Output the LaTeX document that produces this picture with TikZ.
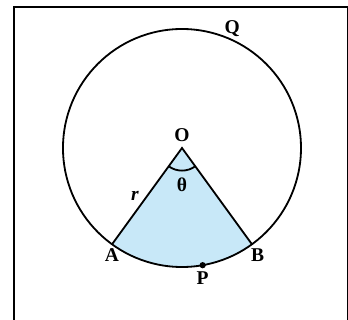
\documentclass[tikz,border=0pt]{standalone}
\usepackage{fontspec}
\setmainfont{Liberation Serif}
\usetikzlibrary{positioning}
\definecolor{sectorblue}{HTML}{C8E8F8}

\begin{document}
\begin{tikzpicture}[
    edge/.style={line width=1.3pt, draw=black},
    pointlabel/.style={font=\fontsize{14}{16}\selectfont\bfseries, inner sep=1pt},
    dotmark/.style={circle, fill=black, inner sep=0pt, minimum size=4.5pt}
]
    \useasboundingbox (-4.588,-4.336) rectangle (4.185,3.731);
    \clip (-4.588,-4.336) rectangle (4.185,3.731);
    \draw[line width=1.4pt] (-4.235,-5) |- (4.172,3.547) -- (4.172,-5);

    \coordinate (O) at (0,0);
    \coordinate (A) at (234:3);
    \coordinate (B) at (306:3);
    \coordinate (Q) at (65:3);

    \fill[sectorblue] (O) -- (A) arc[start angle=234, end angle=306, radius=3] -- cycle;
    \draw[edge] (O) circle[radius=3];
    \draw[edge] (A) -- node[midway, left=2pt, font=\fontsize{14}{16}\selectfont\bfseries\itshape] (radius) {r} (O) -- (B);
    \draw[edge] (O) ++(234:0.57) arc[start angle=234, end angle=306, radius=0.57];
    \node[dotmark] (P) at (280:3) {};

    \node[pointlabel, above=3pt of O] (labelO) {O};
    \node[pointlabel, below=0.7cm of O] (theta) {θ};
    \node[pointlabel, below=2pt of A] (labelA) {A};
    \node[pointlabel, below=2pt of B, xshift=4pt] (labelB) {B};
    \node[pointlabel, below=1pt of P] (labelP) {P};
    \node[pointlabel, above=1pt of Q] (labelQ) {Q};
\end{tikzpicture}
\end{document}
